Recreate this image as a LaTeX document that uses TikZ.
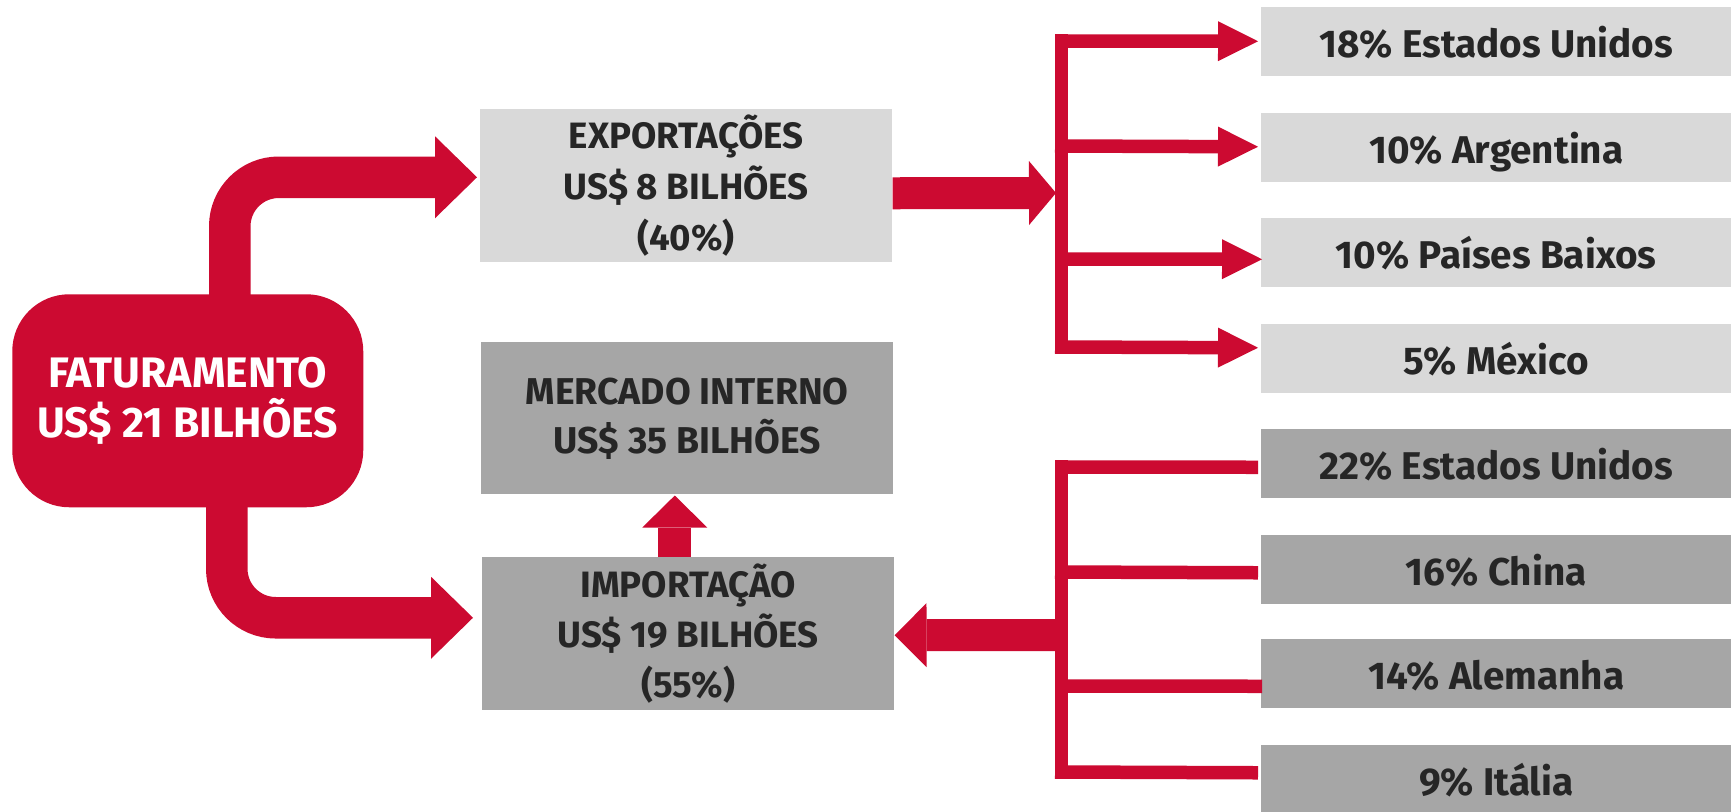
\documentclass[tikz,border=0pt]{standalone}
\usepackage{fontspec}
\setmainfont{Fira Sans}
\usetikzlibrary{arrows.meta}
\definecolor{cred}{HTML}{CC0A31}
\definecolor{lgray}{HTML}{D9D9D9}
\definecolor{dgray}{HTML}{A6A6A6}
\definecolor{ctext}{HTML}{262626}
\begin{document}
\begin{tikzpicture}[x=0.75pt,y=-0.75pt,
  box/.style={draw=none, inner sep=0pt, anchor=north west, align=center, text=ctext},
  bigbox/.style={box, minimum width=309pt, minimum height=114.75pt},
  cbox/.style={box, minimum width=352.5pt, minimum height=51.75pt, text height=23.25pt, text depth=0pt,
    font=\fontsize{29}{35}\selectfont\bfseries},
  fatarrow/.style={draw=cred, line width=31.125pt, rounded corners=36.75pt,
    -{Triangle[length=31.5pt,width=61.5pt,line width=0pt]}},
  midarrow/.style={draw=cred, line width=24pt, -{Triangle[length=20.25pt,width=48pt,line width=0pt]}},
  brk/.style={draw=cred, line width=10.125pt},
  brkarrow/.style={brk, -{Triangle[length=30pt,width=30pt,line width=0pt]}}
]
\useasboundingbox (0,0) rectangle (1731,812);
\fill[white] (0,0) rectangle (1731,812);

% main nodes
\node[box, fill=cred, rounded corners=42.75pt, minimum width=263.25pt, minimum height=159.75pt,
  text=white, font=\fontsize{32}{37.5}\selectfont\bfseries] (fat) at (12,294) {FATURAMENTO\\US\$ 21 BILHÕES};
\node[bigbox, fill=lgray, font=\fontsize{27.5}{38.25}\selectfont\bfseries] (exp) at (480,109)
  {EXPORTAÇÕES\\US\$ 8 BILHÕES\\(40\%)};
\node[bigbox, fill=dgray, minimum height=114pt, font=\fontsize{28}{36.75}\selectfont\bfseries] (mer) at (481,342)
  {MERCADO INTERNO\\US\$ 35 BILHÕES};
\node[bigbox, fill=dgray, font=\fontsize{27.5}{37.5}\selectfont\bfseries] (imp) at (482,557)
  {IMPORTAÇÃO\\US\$ 19 BILHÕES\\(55\%)};

% country nodes
\node[cbox, fill=lgray] (c1) at (1261,7)   {18\% Estados Unidos};
\node[cbox, fill=lgray] (c2) at (1261,113) {10\% Argentina};
\node[cbox, fill=lgray] (c3) at (1261,218) {10\% Países Baixos};
\node[cbox, fill=lgray] (c4) at (1261,324) {5\% México};
\node[cbox, fill=dgray] (c5) at (1261,429) {22\% Estados Unidos};
\node[cbox, fill=dgray] (c6) at (1261,535) {16\% China};
\node[cbox, fill=dgray] (c7) at (1261,639) {14\% Alemanha};
\node[cbox, fill=dgray] (c8) at (1261,745) {9\% Itália};

% coordinates
\coordinate (t1) at ([shift={(-3,-8.5)}]exp.west);
\coordinate (t2) at ([shift={(-9,-16)}]imp.west);
\coordinate (ja) at (1061.5,34.25);
\coordinate (jb) at (1061.5,353.75);
\coordinate (jc) at (1061.5,460.25);
\coordinate (jd) at (1061.5,778.75);

% fat arrows from FATURAMENTO
\draw[fatarrow] ([shift={(42,16)}]fat.north) |- (t1);
\draw[fatarrow] ([shift={(39,-16)}]fat.south) |- (t2);

% exports -> bracket
\draw[midarrow] ([yshift=-5.625pt]exp.east) -- (1056,193);
\draw[brk] (ja) -- (jb);
\draw[brkarrow] (1055,41)  -- ([shift={(-3,-0.5)}]c1.west);
\draw[brkarrow] (1055,146) -- ([shift={(-3,-1)}]c2.west);
\draw[brkarrow] (1055,259) -- ([shift={(1,6.5)}]c3.west);
\draw[brkarrow] (1055,347) -- ([shift={(-3,-11)}]c4.west);

% import bracket
\draw[brk] (jc) -- (jd);
\draw[brk] (1055,467) -- ([shift={(-3,3.5)}]c5.west);
\draw[brk] (1055,572) -- ([shift={(-3,3)}]c6.west);
\draw[brk] (1055,686) -- ([shift={(1,12.5)}]c7.west);
\draw[brk] (1055,772) -- ([shift={(-3,-7)}]c8.west);
\draw[midarrow, -{Triangle[length=24pt,width=48pt,line width=0pt]}] (1061.5,635) -- ([yshift=-1.125pt]imp.east);

% import -> mercado interno
\draw[draw=cred, line width=24.75pt, -{Triangle[length=24pt,width=48.75pt,line width=0pt]}]
  ([xshift=-10.125pt]imp.north) -- ([shift={(-12.5,1)}]mer.south);
\end{tikzpicture}
\end{document}
